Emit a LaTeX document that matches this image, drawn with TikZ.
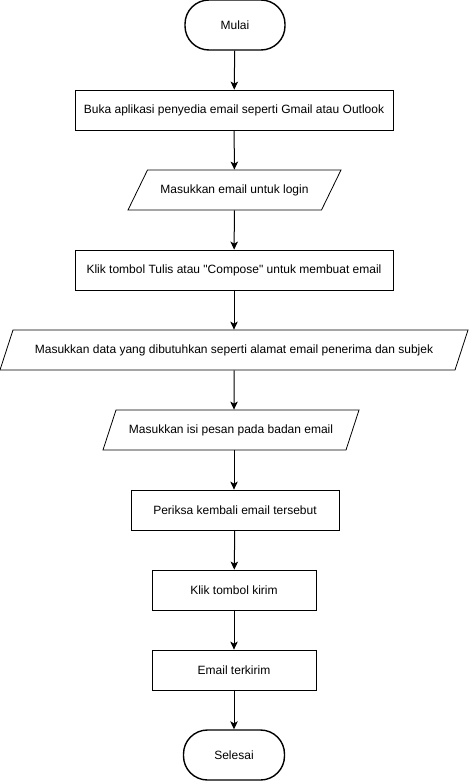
\documentclass[tikz,border=0pt]{standalone}
\usepackage{fontspec}
\setmainfont{Liberation Sans}
\usetikzlibrary{shapes,arrows.meta,calc}
\newcommand{\flowarrowtip}{Stealth[length=8pt,width=7.5pt,inset=2pt]}
\tikzstyle{terminal}=[draw,line width=1.4pt,rounded corners=24pt,minimum width=100pt,minimum height=50pt,inner sep=0pt]
\tikzstyle{process}=[draw,line width=0.8pt,minimum height=40pt,inner sep=0pt]
\tikzstyle{io}=[draw,line width=0.8pt,trapezium,trapezium left angle=72,trapezium right angle=108,trapezium stretches body=true,
                text height=9pt,text depth=3pt,inner xsep=0pt,inner ysep=14pt]
\tikzstyle{flow}=[-\flowarrowtip,line width=1pt]

\begin{document}
\begin{tikzpicture}[x=1pt,y=-1pt,font=\fontsize{12}{14}\selectfont]

  % Page (margins)
  \useasboundingbox (0,0) rectangle (470,782);

  % Steps
  \node[terminal] at (235,25)  (start) {Mulai};
  \node[process,minimum width=318pt] at (234,110) (openApp) {Buka aplikasi penyedia email seperti Gmail atau Outlook};
  \node[io,trapezium left angle=64,trapezium right angle=116,minimum width=213pt] at (234.5,190) (login) {Masukkan email untuk login};
  \node[process,minimum width=318pt] at (234,270) (compose) {Klik tombol Tulis atau \textquotedbl Compose\textquotedbl{} untuk membuat email};
  \node[io,minimum width=468pt] at (234,350) (recipient) {Masukkan data yang dibutuhkan seperti alamat email penerima dan subjek};
  \node[io,minimum width=256pt] at (231,430) (body) {Masukkan isi pesan pada badan email};
  \node[process,minimum width=208pt] at (235,510) (check) {Periksa kembali email tersebut};
  \node[process,minimum width=164pt] at (234,590) (send) {Klik tombol kirim};
  \node[process,minimum width=164pt] at (234,670) (sent) {Email terkirim};
  \node[terminal,minimum width=101pt] at (234,755) (finish) {Selesai};

  % Arrows
  \draw [flow] (start) -- (openApp);
  \draw [flow] (openApp) -- (login);
  \draw [flow] (login) -- (compose);
  \draw [flow] (compose) -- (recipient);
  \draw [flow] (recipient) -- (recipient |- body.north);
  \draw [flow] (recipient |- body.south) -- (recipient |- check.north);
  \draw [flow] (check) -- (send);
  \draw [flow] (send) -- (sent);
  \draw [flow] (sent) -- (finish);

\end{tikzpicture}
\end{document}
